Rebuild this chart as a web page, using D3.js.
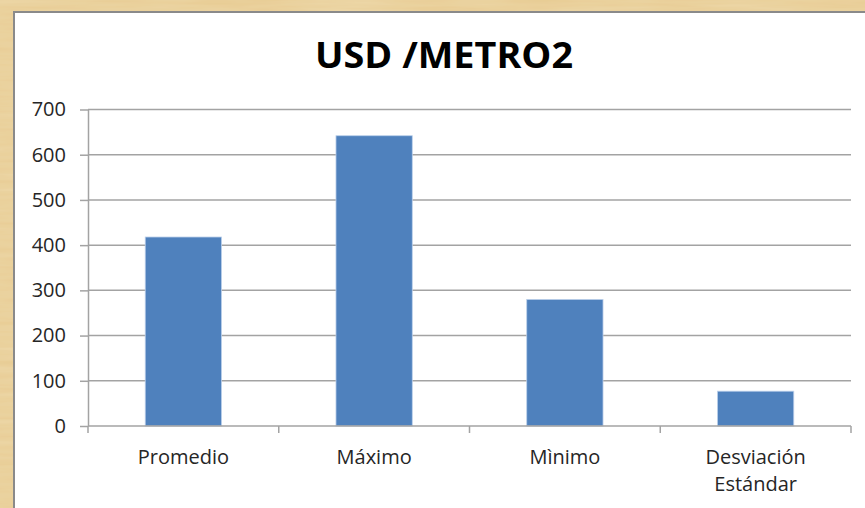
<!DOCTYPE html>
<html>
<head>
<meta charset="utf-8">
<script src="https://cdn.jsdelivr.net/npm/d3@7"></script>
<style>
  html, body { margin: 0; padding: 0; background: #ebd3a0; }
  svg { display: block; }
</style>
</head>
<body>
<script>
const categories = ["Promedio", "Máximo", "Mìnimo", "Desviación\nEstándar"];
const values = [418, 642, 280, 77];
const yTicks = [0, 100, 200, 300, 400, 500, 600, 700];
const title = "USD /METRO2";

const W = 865, H = 508;
const svg = d3.select("body").append("svg").attr("width", W).attr("height", H);

// parchment background
const defs = svg.append("defs");
const f = defs.append("filter").attr("id", "paper").attr("x", 0).attr("y", 0).attr("width", "100%").attr("height", "100%");
f.append("feTurbulence").attr("type", "fractalNoise").attr("baseFrequency", "0.01 0.15").attr("numOctaves", 3).attr("seed", 4).attr("result", "n");
f.append("feColorMatrix").attr("in", "n").attr("type", "matrix")
  .attr("values", "0 0 0 0 0.9  0 0 0 0 0.78  0 0 0 0 0.52  0.6 0 0 0 -0.05").attr("result", "c");
f.append("feComposite").attr("in", "c").attr("in2", "SourceGraphic").attr("operator", "over");
svg.append("rect").attr("width", W).attr("height", H).attr("fill", "#efd7a4");
svg.append("rect").attr("width", W).attr("height", H).attr("fill", "#e6c98e").attr("filter", "url(#paper)").attr("opacity", 0.8);

// chart panel
svg.append("rect").attr("x", 14).attr("y", 12).attr("width", W).attr("height", H)
  .attr("fill", "#ffffff").attr("stroke", "#8a8a8a").attr("stroke-width", 2);

const plot = { left: 88, right: 851, top: 109.5, bottom: 426 };

const x = d3.scaleBand().domain(categories).range([plot.left, plot.right]).paddingInner(0.6).paddingOuter(0.3);
const xb = d3.scaleBand().domain(categories).range([plot.left, plot.right]);
const y = d3.scaleLinear().domain([0, 700]).range([plot.bottom, plot.top]);

const font = "'Open Sans', 'DejaVu Sans', sans-serif";

// gridlines
svg.append("g").selectAll("line").data(yTicks.filter(d => d > 0)).join("line")
  .attr("x1", plot.left).attr("x2", plot.right)
  .attr("y1", d => y(d)).attr("y2", d => y(d))
  .attr("stroke", "#a3a3a3").attr("stroke-width", 1.5);

// y axis
const yAxis = svg.append("g").attr("transform", `translate(${plot.left},0)`)
  .call(d3.axisLeft(y).tickValues(yTicks).tickSize(8).tickPadding(14).tickSizeOuter(0));
yAxis.select(".domain").attr("stroke", "#a3a3a3").attr("stroke-width", 1.5);
yAxis.selectAll(".tick line").attr("stroke", "#a3a3a3").attr("stroke-width", 1.5);
yAxis.selectAll(".tick text").attr("font-family", font).attr("font-size", 20).attr("fill", "#262626");

// bars
svg.append("g").selectAll("rect").data(values).join("rect")
  .attr("x", (d, i) => x(categories[i]))
  .attr("width", x.bandwidth())
  .attr("y", d => y(d))
  .attr("height", d => y(0) - y(d))
  .attr("fill", "#4f81bd")
  .attr("stroke", "#bcd0ea").attr("stroke-width", 0.8);

// x axis line and ticks
const xg = svg.append("g");
xg.append("line").attr("x1", plot.left).attr("x2", plot.right).attr("y1", y(0)).attr("y2", y(0))
  .attr("stroke", "#a3a3a3").attr("stroke-width", 1.5);
const bounds = categories.map(c => xb(c)).concat([plot.right]);
xg.selectAll("line.t").data(bounds).join("line").attr("class", "t")
  .attr("x1", d => d).attr("x2", d => d).attr("y1", y(0)).attr("y2", y(0) + 7)
  .attr("stroke", "#a3a3a3").attr("stroke-width", 1.5);

// x labels
const lab = xg.selectAll("text").data(categories).join("text")
  .attr("x", d => xb(d) + xb.bandwidth() / 2)
  .attr("y", 464)
  .attr("text-anchor", "middle")
  .attr("font-family", font).attr("font-size", 20).attr("fill", "#262626");
lab.each(function(d) {
  const lines = d.split("\n");
  const t = d3.select(this);
  lines.forEach((l, i) => {
    t.append("tspan").attr("x", xb(d) + xb.bandwidth() / 2).attr("dy", i === 0 ? 0 : 27).text(l);
  });
});

// title
svg.append("text").attr("x", 444).attr("y", 68)
  .attr("text-anchor", "middle")
  .attr("font-family", font).attr("font-weight", "bold").attr("font-size", 36)
  .attr("textLength", 258).attr("lengthAdjust", "spacingAndGlyphs")
  .attr("fill", "#000").text(title);
</script>
</body>
</html>
